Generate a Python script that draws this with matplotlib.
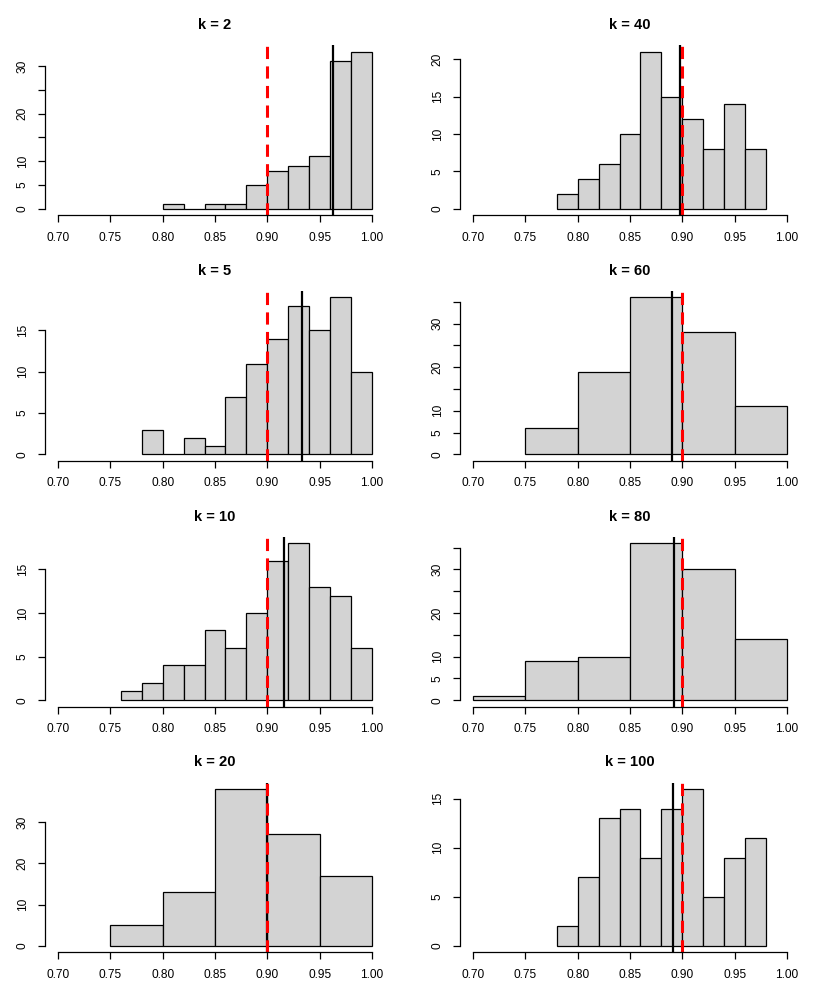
import matplotlib
matplotlib.use("Agg")
import matplotlib.pyplot as plt
import numpy as np

plt.rcParams['font.family'] = ['Liberation Sans', 'DejaVu Sans']

# panels in drawing order (column-major, like par(mfcol=c(4,2)))
ks = [2, 5, 10, 20, 40, 60, 80, 100]
bin_start = [0.80, 0.78, 0.76, 0.75, 0.78, 0.75, 0.70, 0.78]
bin_width = [0.02, 0.02, 0.02, 0.05, 0.02, 0.05, 0.05, 0.02]
counts = [
    [1, 0, 1, 1, 5, 8, 9, 11, 31, 33],
    [3, 0, 2, 1, 7, 11, 14, 18, 15, 19, 10],
    [1, 2, 4, 4, 8, 6, 10, 16, 18, 13, 12, 6],
    [5, 13, 38, 27, 17],
    [2, 4, 6, 10, 21, 15, 12, 8, 14, 8],
    [6, 19, 36, 28, 11],
    [1, 9, 10, 36, 30, 14],
    [2, 7, 13, 14, 9, 14, 16, 5, 9, 11],
]
means = [0.963, 0.933, 0.916, 0.900, 0.898, 0.890, 0.8925, 0.891]
target = 0.90

y_ticks = [
    [0, 5, 10, 15, 20, 25, 30],
    [0, 5, 10, 15],
    [0, 5, 10, 15],
    [0, 10, 20, 30],
    [0, 5, 10, 15, 20],
    [0, 5, 10, 15, 20, 25, 30, 35],
    [0, 5, 10, 15, 20, 25, 30, 35],
    [0, 5, 10, 15],
]
# R drops labels that would overlap
y_labels = [
    ["0", "5", "10", "", "20", "", "30"],
    ["0", "5", "10", "15"],
    ["0", "5", "10", "15"],
    ["0", "10", "20", "30"],
    ["0", "5", "10", "15", "20"],
    ["0", "5", "10", "", "20", "", "30", ""],
    ["0", "5", "10", "", "20", "", "30", ""],
    ["0", "5", "10", "15"],
]
x_ticks = [0.70, 0.75, 0.80, 0.85, 0.90, 0.95, 1.00]

W, H = 830, 983
fig = plt.figure(figsize=(W / 100, H / 100), dpi=100)

for i, k in enumerate(ks):
    col, row = i // 4, i % 4
    left = (col * 415 + 45.4) / W
    bottom = 1 - (row * 245.75 + 215) / H
    ax = fig.add_axes([left, bottom, 339.2 / W, 169.6 / H])

    c = np.array(counts[i])
    edges = bin_start[i] + bin_width[i] * np.arange(len(c))
    ax.bar(edges, c, width=bin_width[i], align='edge', color='#D3D3D3',
           edgecolor='black', linewidth=0.9)

    ax.axvline(means[i], color='black', lw=1.6)
    ax.axvline(target, color='red', lw=2.2, ls=(0, (4, 2.4)))

    ymax = c.max()
    ax.set_xlim(0.7 - 0.012, 1.0 + 0.012)
    ax.set_ylim(-0.04 * ymax, 1.04 * ymax)

    ax.set_xticks(x_ticks)
    ax.set_xticklabels([f"{t:.2f}" for t in x_ticks])
    ax.set_yticks(y_ticks[i])
    ax.set_yticklabels(y_labels[i], rotation=90, va='center')
    ax.tick_params(axis='both', direction='out', length=5, width=0.9,
                   labelsize=8.6, pad=7)

    for s in ['top', 'right']:
        ax.spines[s].set_visible(False)
    ax.spines['left'].set_bounds(0, y_ticks[i][-1])
    ax.spines['bottom'].set_bounds(0.7, 1.0)
    ax.spines['left'].set_linewidth(0.9)
    ax.spines['bottom'].set_linewidth(0.9)

    ax.set_title(f"k = {k}", fontsize=10.6, fontweight='bold', pad=11.8)

fig.savefig("out.png", dpi=100)
